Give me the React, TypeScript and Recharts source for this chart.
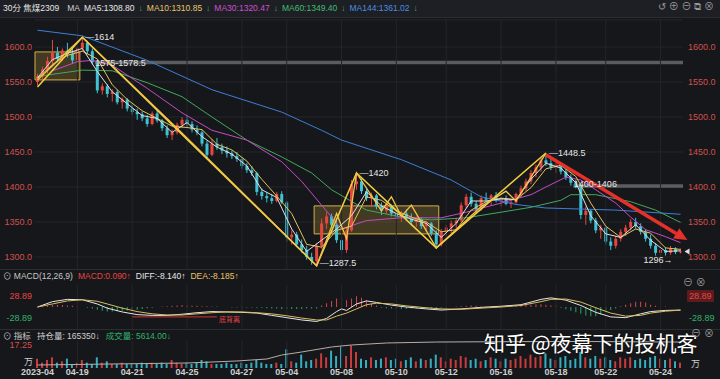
import React from 'react';
import {
  ComposedChart, Bar, Line, XAxis, YAxis, CartesianGrid,
  ReferenceArea, ReferenceLine, ReferenceDot, Cell,
} from 'recharts';

const BG = '#16171b';
const RED = '#e5463f';
const CYAN = '#3fc2d4';
const GREEN = '#2fb36a';
const YELLOW = '#f3d13f';
const FONT = '"Liberation Sans", "Noto Sans CJK SC", sans-serif';

// 30-minute bars [open, high, low, close]
const candles: [number, number, number, number][] = [
  [1550, 1562, 1545, 1558], [1558, 1572, 1552, 1568], [1568, 1586, 1562, 1580], [1580, 1610, 1575, 1592],
  [1592, 1600, 1578, 1583], [1583, 1598, 1580, 1595], [1595, 1606, 1585, 1590], [1590, 1600, 1577, 1581],
  [1581, 1600, 1578, 1598], [1598, 1614, 1594, 1606], [1606, 1609, 1590, 1594], [1594, 1598, 1575, 1578],
  [1578, 1582, 1534, 1538], [1538, 1548, 1532, 1544], [1544, 1547, 1528, 1533], [1533, 1540, 1522, 1536],
  [1536, 1539, 1518, 1521], [1521, 1528, 1512, 1525], [1525, 1527, 1508, 1512], [1512, 1518, 1503, 1507],
  [1507, 1512, 1496, 1504], [1504, 1508, 1494, 1498], [1498, 1503, 1486, 1490], [1490, 1508, 1488, 1505],
  [1505, 1510, 1492, 1495], [1495, 1497, 1480, 1484], [1484, 1488, 1470, 1474], [1474, 1482, 1467, 1478],
  [1478, 1492, 1475, 1489], [1489, 1500, 1484, 1496], [1496, 1503, 1486, 1490], [1490, 1494, 1478, 1482],
  [1482, 1488, 1474, 1478], [1478, 1481, 1458, 1462], [1462, 1466, 1440, 1446], [1446, 1468, 1444, 1462],
  [1462, 1470, 1453, 1457], [1457, 1462, 1447, 1452], [1452, 1458, 1442, 1448], [1448, 1452, 1440, 1444],
  [1444, 1450, 1436, 1440], [1440, 1443, 1426, 1430], [1430, 1434, 1420, 1424], [1424, 1430, 1416, 1420],
  [1420, 1422, 1388, 1393], [1393, 1398, 1382, 1387], [1387, 1392, 1378, 1384], [1384, 1390, 1376, 1380],
  [1380, 1393, 1378, 1390], [1390, 1394, 1376, 1378], [1378, 1380, 1322, 1328], [1328, 1338, 1318, 1332],
  [1332, 1336, 1314, 1318], [1318, 1325, 1306, 1310], [1310, 1316, 1296, 1300], [1300, 1306, 1289, 1294],
  [1294, 1320, 1287.5, 1316], [1316, 1355, 1312, 1348], [1348, 1364, 1340, 1358], [1358, 1362, 1342, 1346],
  [1346, 1352, 1320, 1324], [1324, 1328, 1305, 1310], [1310, 1342, 1306, 1338], [1338, 1410, 1336, 1404],
  [1404, 1420, 1396, 1408], [1408, 1412, 1390, 1394], [1394, 1398, 1380, 1384], [1384, 1392, 1372, 1388],
  [1388, 1390, 1368, 1372], [1372, 1378, 1360, 1366], [1366, 1376, 1362, 1372], [1372, 1375, 1358, 1362],
  [1362, 1368, 1354, 1358], [1358, 1366, 1350, 1362], [1362, 1368, 1352, 1355], [1355, 1362, 1345, 1350],
  [1350, 1358, 1343, 1354], [1354, 1357, 1340, 1344], [1344, 1352, 1336, 1348], [1348, 1350, 1330, 1334],
  [1334, 1338, 1312, 1318], [1318, 1340, 1315, 1336], [1336, 1346, 1330, 1342], [1342, 1352, 1334, 1348],
  [1348, 1356, 1340, 1352], [1352, 1378, 1350, 1374], [1374, 1390, 1370, 1386], [1386, 1392, 1372, 1376],
  [1376, 1380, 1362, 1368], [1368, 1388, 1366, 1384], [1384, 1392, 1378, 1382], [1382, 1390, 1374, 1388],
  [1388, 1393, 1378, 1380], [1380, 1386, 1372, 1384], [1384, 1388, 1374, 1376], [1376, 1382, 1370, 1378],
  [1378, 1392, 1376, 1390], [1390, 1402, 1386, 1398], [1398, 1412, 1394, 1408], [1408, 1424, 1404, 1420],
  [1420, 1432, 1414, 1428], [1428, 1442, 1422, 1438], [1438, 1448.5, 1430, 1434], [1434, 1440, 1424, 1428],
  [1428, 1436, 1420, 1432], [1432, 1434, 1418, 1422], [1422, 1426, 1410, 1414], [1414, 1418, 1402, 1406],
  [1406, 1410, 1398, 1402], [1402, 1404, 1354, 1360], [1360, 1372, 1346, 1366], [1366, 1368, 1348, 1352],
  [1352, 1356, 1334, 1338], [1338, 1346, 1326, 1342], [1342, 1344, 1318, 1322], [1322, 1328, 1310, 1316],
  [1316, 1330, 1312, 1326], [1326, 1340, 1322, 1336], [1336, 1346, 1330, 1342], [1342, 1354, 1338, 1350],
  [1350, 1356, 1340, 1344], [1344, 1348, 1332, 1336], [1336, 1340, 1322, 1326], [1326, 1332, 1312, 1316],
  [1316, 1320, 1302, 1306], [1306, 1312, 1296, 1310], [1310, 1314, 1302, 1306], [1306, 1316, 1303, 1312],
  [1312, 1314, 1304, 1307], [1307, 1312, 1305, 1308],
];

// 成交量 (万)
const volumes = [
  7, 4, 6, 8, 4, 5, 7, 3, 4, 6,
  4, 3, 8, 4, 5, 3, 3, 4, 3, 3,
  3, 4, 3, 4, 3, 4, 3, 6, 4, 3,
  4, 3, 4, 6, 5, 3, 3, 3, 4, 3,
  3, 4, 3, 4, 6, 4, 3, 3, 4, 3,
  14, 5, 4, 10, 5, 6, 7, 11, 8, 13,
  9, 16, 9, 17, 12, 7, 6, 8, 6, 7,
  8, 6, 7, 5, 6, 8, 5, 7, 6, 7,
  10, 8, 5, 7, 6, 9, 8, 6, 7, 5,
  6, 8, 7, 5, 7, 6, 7, 9, 7, 10,
  8, 9, 11, 7, 6, 8, 9, 6, 7, 12,
  8, 7, 9, 7, 8, 6, 5, 8, 7, 8,
  6, 7, 6, 8, 9, 7, 6, 7, 5, 4,
];

// 持仓量 [bar, value]
const oiPts: [number, number][] = [
  [0, 129700], [30, 132800], [40, 135900], [46, 139000], [49, 145200], [53, 149900],
  [59, 157700], [63, 160800], [70, 163900], [80, 165400], [95, 166000], [110, 166200], [129, 165350],
];

const macdHist = [
  0, 2, 4, 5, 6, 5, 4, 3, 2, 0, -2, -4,
  -7, -10, -12, -12, -11, -10, -9, -8, -7, -5, -3, -2, 0,
  1, 2, 3, 4, 5, 4, 3, 3, 2, 2, 1, 1, 0, 0, -1, -1,
  -1, -1, -1, -2, -2, -3, -4, -4, -5, -5, -5, -5, -5, -4, -4, -4,
  4, 10, 16, 22, 24, 18, 22, 28, 24, 18, 10, 4, -2, -3,
  -4, -5, -5, -5, -4, -4, -4, -3, -3, -3, -2, -1, 0, 1,
  2, 3, 4, 3, 2, 2, 1, 1, 2, 3, 3, 3,
  4, 5, 6, 7, 7, 6, 4, 2, -2, -6, -10, -14, -18, -22,
  -24, -24, -20, -14, -8, -4, 2, 6, 10, 14, 14, 12, 6, 3, 2, 1, 0, 0, 0,
];

const diffPts: [number, number][] = [
  [0, 0], [3, 14], [6, 20], [9, 19], [12, 8], [14, -3], [17, -13], [20, -20], [23, -22], [26, -22],
  [29, -19], [32, -15], [35, -12], [38, -13], [41, -14], [44, -16], [47, -22], [50, -28], [53, -34],
  [56, -38], [58, -30], [60, -12], [61, -5], [62, -9], [64, 8], [66, 16], [68, 12], [71, 5], [74, 0],
  [78, -5], [81, -8], [85, -5], [89, -1], [93, 2], [97, 6], [101, 20], [103, 24], [106, 18], [109, 4],
  [112, -14], [115, -26], [118, -28], [121, -18], [123, -12], [126, -9], [129, -8.14],
];
const deaPts: [number, number][] = [
  [0, 0], [3, 8], [6, 16], [9, 19], [12, 15], [14, 8], [17, -3], [20, -12], [23, -18], [26, -21],
  [29, -21], [32, -18], [35, -15], [38, -13], [41, -13], [44, -15], [47, -18], [50, -23], [53, -29],
  [56, -34], [58, -34], [60, -24], [62, -16], [64, -5], [66, 6], [68, 10], [71, 8], [74, 3], [78, -2],
  [81, -5], [85, -6], [89, -3], [93, 0], [97, 4], [101, 14], [103, 20], [106, 21], [109, 13], [112, -2],
  [115, -16], [118, -24], [121, -22], [123, -16], [126, -11], [129, -8.185],
];

const ma5Pts: [number, number][] = [
  [0, 1556], [3, 1582], [6, 1591], [9, 1598], [12, 1565], [15, 1536], [18, 1519], [21, 1502], [24, 1498],
  [27, 1478], [30, 1492], [33, 1472], [36, 1457], [39, 1447], [42, 1430], [45, 1396], [48, 1385], [51, 1340],
  [54, 1308], [57, 1324], [60, 1340], [63, 1359], [66, 1393], [69, 1373], [72, 1362], [75, 1354], [78, 1348],
  [81, 1328], [84, 1348], [87, 1380], [90, 1380], [93, 1383], [96, 1382], [99, 1411], [102, 1434], [105, 1427],
  [108, 1406], [111, 1359], [114, 1333], [117, 1328], [120, 1346], [123, 1324], [126, 1308], [129, 1308.8],
];
const ma10Pts: [number, number][] = [
  [0, 1555], [3, 1575], [6, 1588], [9, 1594], [12, 1583], [15, 1546], [18, 1525], [21, 1509], [24, 1498],
  [27, 1487], [30, 1485], [33, 1482], [36, 1461], [39, 1453], [42, 1437], [45, 1411], [48, 1387], [51, 1362],
  [54, 1318], [57, 1314], [60, 1338], [63, 1344], [66, 1386], [69, 1381], [72, 1366], [75, 1357], [78, 1350],
  [81, 1336], [84, 1339], [87, 1367], [90, 1379], [93, 1384], [96, 1382], [99, 1399], [102, 1426], [105, 1431],
  [108, 1415], [111, 1377], [114, 1344], [117, 1328], [120, 1340], [123, 1334], [126, 1313], [129, 1310.85],
];
const ma30Pts: [number, number][] = [
  [3, 1566], [8, 1579], [11, 1581], [15, 1574], [22, 1541], [29, 1506], [35, 1481], [42, 1467], [49, 1436],
  [53, 1408], [57, 1374], [61, 1340], [66, 1352], [73, 1356], [81, 1356], [86, 1364], [93, 1377], [99, 1389],
  [102, 1400], [106, 1414], [109, 1410], [112, 1396], [116, 1377], [119, 1357], [122, 1339], [126, 1329], [129, 1320.47],
];
const ma60Pts: [number, number][] = [
  [0, 1558], [9, 1567], [15, 1566], [22, 1549], [29, 1529], [35, 1500], [42, 1467], [49, 1443], [55, 1420],
  [59, 1396], [66, 1367], [73, 1357], [79, 1353], [86, 1356], [93, 1364], [99, 1371], [105, 1381], [107, 1389],
  [112, 1389], [119, 1379], [124, 1367], [129, 1349.4],
];
const ma144Pts: [number, number][] = [
  [0, 1624], [9, 1616], [22, 1581], [35, 1539], [49, 1507], [57, 1481], [61, 1467], [73, 1439], [83, 1410],
  [89, 1386], [96, 1375], [102, 1370], [116, 1367], [129, 1361.02],
];

// 波段连线 (bar, price)
const zigA: [number, number][] = [[0, 1543], [9, 1614], [56, 1287.5], [64, 1420], [80, 1313], [102, 1448.5]];
const zigB: [number, number][] = [
  [0, 1553], [9, 1614], [28, 1484], [56, 1287.5], [60, 1362], [62, 1326], [64, 1420], [69, 1366], [71, 1386],
  [73, 1358], [75, 1374], [80, 1313], [89, 1372], [94, 1394], [96, 1380], [102, 1448.5],
];

const priceTicks = [1300, 1350, 1400, 1450, 1500, 1550, 1600];
const dateBars = [0, 8, 19, 30, 41, 50, 61, 72, 82, 93, 104, 114, 125];
const dateLabels = ['2023-04', '04-19', '04-21', '04-25', '04-27', '05-04', '05-08', '05-10', '05-12', '05-16', '05-18', '05-22', '05-24'];

const marks = [
  { i: 9, p: 1614, text: '—1614', pos: 'right' },
  { i: 11, p: 1577, text: '1575-1578.5', pos: 'right' },
  { i: 56, p: 1291, text: '—1287.5', pos: 'right' },
  { i: 64, p: 1420, text: '—1420', pos: 'right' },
  { i: 102, p: 1448.5, text: '—1448.5', pos: 'right' },
  { i: 107, p: 1405, text: '1400-1406', pos: 'right' },
  { i: 128, p: 1296, text: '1296→', pos: 'left' },
];

const pick = (pts: [number, number][], i: number) => {
  const f = pts.find((q) => q[0] === i);
  return f ? f[1] : null;
};

const rows = candles.map(([o, h, l, c], i) => ({
  i, o, h, l, c, range: [l, h],
  vol: volumes[i], hist: macdHist[i],
  oi: pick(oiPts, i),
  diff: pick(diffPts, i), dea: pick(deaPts, i),
  ma5: pick(ma5Pts, i), ma10: pick(ma10Pts, i), ma30: pick(ma30Pts, i),
  ma60: pick(ma60Pts, i), ma144: pick(ma144Pts, i),
  za: pick(zigA, i), zb: pick(zigB, i),
}));

const Candle = (props: any) => {
  const { x, y, width, height, payload } = props;
  if (x == null || !payload) return null;
  const { o, h, l, c } = payload;
  const top = Math.min(y, y + height);
  const hh = Math.abs(height);
  const k = h === l ? 0 : hh / (h - l);
  const b1 = top + (h - Math.max(o, c)) * k;
  const b2 = top + (h - Math.min(o, c)) * k;
  const col = c >= o ? RED : CYAN;
  const cx = x + width / 2;
  return (
    <g>
      <line x1={cx} x2={cx} y1={top} y2={top + hh} stroke={col} strokeWidth={1} />
      <rect x={x} y={b1} width={width} height={Math.max(1, b2 - b1)} fill={col} />
    </g>
  );
};

const Arrow = (p: any) => {
  const { x1, y1, x2, y2 } = p;
  const dx = x2 - x1, dy = y2 - y1;
  const len = Math.hypot(dx, dy) || 1;
  const ux = dx / len, uy = dy / len;
  const ex = x2 + ux * 8, ey = y2 + uy * 8;
  const bx = ex - ux * 13, by = ey - uy * 13;
  const px = -uy, py = ux;
  return (
    <g>
      <line x1={x1} y1={y1} x2={bx} y2={by} stroke="#e8302a" strokeWidth={3.5} />
      <polygon points={`${ex},${ey} ${bx + px * 6},${by + py * 6} ${bx - px * 6},${by - py * 6}`} fill="#e8302a" />
    </g>
  );
};

const MacdTick = (p: any) => {
  const { x, y, payload, textAnchor } = p;
  const v = payload.value as number;
  const right = textAnchor === 'start';
  return (
    <g>
      {right && v > 0 && <rect x={x - 2} y={y - 6} width={27} height={12} fill="#5a1c1f" rx={1} />}
      <text x={x} y={y} dy={3} textAnchor={textAnchor} fontSize={9} fill={v > 0 ? RED : GREEN}>
        {v.toFixed(2)}
      </text>
    </g>
  );
};

type Piece = [string, string];
const Row = ({ left, top, items, gap = 5 }: { left: number; top: number; items: Piece[]; gap?: number }) => (
  <div style={{ position: 'absolute', left, top, display: 'flex', gap, fontSize: 8.5, lineHeight: '12px', whiteSpace: 'nowrap' }}>
    {items.map(([s, c], k) => <span key={k} style={{ color: c }}>{s}</span>)}
  </div>
);

const txt = (left: number, top: number, s: string, color: string, size = 9): React.ReactNode => (
  <span style={{ position: 'absolute', left, top, color, fontSize: size, lineHeight: '12px', whiteSpace: 'nowrap' }}>{s}</span>
);

const vGrid = (id: string) =>
  dateBars.slice(1).map((b) => (
    <ReferenceLine key={'g' + b} yAxisId={id} x={b} stroke="#24252a" strokeWidth={1} />
  ));

export default function App() {
  return (
    <div style={{ position: 'fixed', left: 0, top: 0, width: 720, height: 379, background: BG, overflow: 'hidden', fontFamily: FONT }}>
      <div style={{ position: 'absolute', left: 0, top: 0, width: 720, height: 17, background: '#1e1f24', borderBottom: '1px solid #2a2b31' }} />
      <Row left={3} top={2} gap={4} items={[
        ['30分 焦煤2309', '#e4e4e4'], ['', ''], ['MA', '#cfcfcf'], ['MA5:1308.80', '#e8e8e8'], ['↓', GREEN],
        ['MA10:1310.85', '#e9c46a'], ['↓', GREEN], ['MA30:1320.47', '#cf4fcf'], ['↓', GREEN],
        ['MA60:1349.40', '#3fbf6f'], ['↓', GREEN], ['MA144:1361.02', '#4a8fe0'], ['↓', GREEN],
      ]} />
      {txt(658, 1, '↺  ⊕  ⊖  ⧉  ⊗', '#9a9a9a', 10)}

      <div style={{ position: 'absolute', left: 0, top: 18 }}>
        <ComposedChart width={720} height={252} data={rows} margin={{ top: 2, right: 0, bottom: 0, left: 0 }}>
          <CartesianGrid yAxisId="p" stroke="#24252a" vertical={false} />
          <XAxis dataKey="i" hide />
          <YAxis yAxisId="p" domain={[1281.4, 1638.6]} allowDataOverflow ticks={priceTicks} interval={0} width={35}
            tickFormatter={(v: number) => v.toFixed(1)} tick={{ fill: '#d2504a', fontSize: 9 }}
            tickLine={false} axisLine={false} tickSize={0} tickMargin={3} />
          <YAxis yAxisId="r" orientation="right" domain={[1281.4, 1638.6]} allowDataOverflow ticks={priceTicks} interval={0} width={37}
            tickFormatter={(v: number) => v.toFixed(1)} tick={{ fill: '#d2504a', fontSize: 9 }}
            tickLine={false} axisLine={false} tickSize={0} tickMargin={5} />
          {vGrid('p')}
          <ReferenceArea yAxisId="p" x1={0} x2={8} y1={1553} y2={1593} fill="#b8983a" fillOpacity={0.28} stroke="#d4b048" strokeWidth={1} />
          <ReferenceArea yAxisId="p" x1={56} x2={80} y1={1333} y2={1373} fill="#b8983a" fillOpacity={0.28} stroke="#d4b048" strokeWidth={1} />
          <ReferenceArea yAxisId="p" x1={12} x2={129} y1={1575.5} y2={1580.5} fill="#8a8a8d" fillOpacity={0.6} />
          <ReferenceArea yAxisId="p" x1={108} x2={129} y1={1399} y2={1404} fill="#8a8a8d" fillOpacity={0.6} />
          <Bar yAxisId="p" dataKey="range" barSize={3} shape={Candle} isAnimationActive={false} />
          <Line yAxisId="r" dataKey="ma144" stroke="#3d7fd6" strokeWidth={1} dot={false} connectNulls isAnimationActive={false} />
          <Line yAxisId="p" dataKey="ma60" stroke="#43a95a" strokeWidth={1} dot={false} connectNulls isAnimationActive={false} />
          <Line yAxisId="p" dataKey="ma30" stroke="#c54bc5" strokeWidth={1} dot={false} connectNulls isAnimationActive={false} />
          <Line yAxisId="p" dataKey="ma10" stroke="#e6c35c" strokeWidth={1} dot={false} connectNulls isAnimationActive={false} />
          <Line yAxisId="p" dataKey="ma5" stroke="#e0e0e0" strokeWidth={1} dot={false} connectNulls isAnimationActive={false} />
          <Line yAxisId="p" dataKey="za" stroke={YELLOW} strokeWidth={1.5} dot={false} connectNulls isAnimationActive={false} />
          <Line yAxisId="p" dataKey="zb" stroke="#f0c64a" strokeWidth={1.3} dot={false} connectNulls isAnimationActive={false} />
          <ReferenceLine yAxisId="p" segment={[{ x: 102, y: 1446 }, { x: 129, y: 1330 }]} ifOverflow="visible" shape={Arrow} />
          <ReferenceDot yAxisId="p" x={129} y={1308} r={2} ifOverflow="visible"
            shape={(p: any) => <polygon points={`${p.cx + 4},${p.cy} ${p.cx + 9},${p.cy - 3} ${p.cx + 9},${p.cy + 3}`} fill="#e0e0e0" />} />
          {marks.map((m) => (
            <ReferenceDot key={m.text} yAxisId="p" x={m.i} y={m.p} r={1} fill="none" stroke="none"
              label={{ value: m.text, position: m.pos as any, offset: 2, fill: '#e6e6e6', fontSize: 9 }} />
          ))}
        </ComposedChart>
      </div>

      <div style={{ position: 'absolute', left: 0, top: 269, width: 720, height: 1, background: '#2c2d33' }} />
      <Row left={3} top={270} gap={5} items={[
        ['⊙ MACD(12,26,9)', '#c8c8c8'], ['MACD:0.090↑', RED], ['DIFF:-8.140↑', '#e8e8e8'], ['DEA:-8.185↑', '#e9c46a'],
      ]} />
      {txt(683, 277, '⊖ ⊗', '#9a9a9a', 10)}

      <div style={{ position: 'absolute', left: 0, top: 285 }}>
        <ComposedChart width={720} height={44} data={rows} margin={{ top: 0, right: 0, bottom: 0, left: 0 }}>
          <XAxis dataKey="i" hide />
          <YAxis yAxisId="m" domain={[-57.78, 57.78]} allowDataOverflow ticks={[-28.89, 28.89]} interval={0} width={35}
            tick={<MacdTick />} tickLine={false} axisLine={false} tickSize={0} tickMargin={3} />
          <YAxis yAxisId="mr" orientation="right" domain={[-57.78, 57.78]} allowDataOverflow ticks={[-28.89, 28.89]} interval={0} width={37}
            tick={<MacdTick />} tickLine={false} axisLine={false} tickSize={0} tickMargin={6} />
          {vGrid('m')}
          <Bar yAxisId="m" dataKey="hist" barSize={1} isAnimationActive={false}>
            {rows.map((r) => <Cell key={r.i} fill={r.hist >= 0 ? '#d4474b' : '#27a865'} />)}
          </Bar>
          <Line yAxisId="m" dataKey="diff" stroke="#e6e6e6" strokeWidth={1} dot={false} connectNulls isAnimationActive={false} />
          <Line yAxisId="mr" dataKey="dea" stroke="#d9bd63" strokeWidth={1} dot={false} connectNulls isAnimationActive={false} />
          <ReferenceLine yAxisId="m" segment={[{ x: 19, y: -26 }, { x: 36, y: -26 }]} stroke="#d03232" strokeWidth={1} />
          <ReferenceDot yAxisId="m" x={36} y={-32} r={1} fill="none" stroke="none"
            label={{ value: '底背离', position: 'right', offset: 1, fill: '#e04545', fontSize: 7 }} />
        </ComposedChart>
      </div>

      <div style={{ position: 'absolute', left: 0, top: 329, width: 720, height: 1, background: '#2c2d33' }} />
      <Row left={3} top={330} gap={6} items={[
        ['⊙ 指标', '#c8c8c8'], ['持仓量: 165350↓', '#cfcfcf'], ['成交量: 5614.00↓', GREEN],
      ]} />
      {txt(704, 328, '⊗', '#9a9a9a', 10)}
      {txt(24, 356, '万', '#d0d0d0', 9)}
      {txt(691, 358, '万', '#d0d0d0', 9)}

      <div style={{ position: 'absolute', left: 0, top: 341 }}>
        <ComposedChart width={720} height={38} data={rows} margin={{ top: 0, right: 0, bottom: 0, left: 0 }}>
          <XAxis dataKey="i" ticks={dateBars} interval={0} height={11}
            tickFormatter={(v: number) => dateLabels[dateBars.indexOf(v)] || ''}
            tick={{ fill: '#d0d0d0', fontSize: 9, fontWeight: 600 }} tickLine={false} axisLine={false} tickSize={0} tickMargin={1} />
          <YAxis yAxisId="v" domain={[0, 20.25]} allowDataOverflow ticks={[17.25]} interval={0} width={35}
            tick={{ fill: '#d2504a', fontSize: 9 }} tickLine={false} axisLine={false} tickSize={0} tickMargin={3} />
          <YAxis yAxisId="oi" orientation="right" domain={[125000, 167000]} allowDataOverflow width={37} tick={false} axisLine={false} tickLine={false} />
          {vGrid('v')}
          <Bar yAxisId="v" dataKey="vol" barSize={2} isAnimationActive={false}>
            {rows.map((r) => <Cell key={r.i} fill={r.c >= r.o ? '#c83c3e' : '#35aebf'} />)}
          </Bar>
          <Line yAxisId="oi" dataKey="oi" stroke="#b9aca6" strokeWidth={1} dot={false} connectNulls isAnimationActive={false} />
        </ComposedChart>
      </div>

      <div style={{ position: 'absolute', left: 484, top: 330, color: '#ffffff', fontSize: 21, lineHeight: '25px', fontFamily: '"Noto Sans CJK SC", sans-serif', whiteSpace: 'nowrap', textShadow: '0 0 2px rgba(0,0,0,0.6)' }}>
        知乎 @夜幕下的投机客
      </div>
      {txt(691, 328, '⊖', '#9a9a9a', 10)}
    </div>
  );
}
